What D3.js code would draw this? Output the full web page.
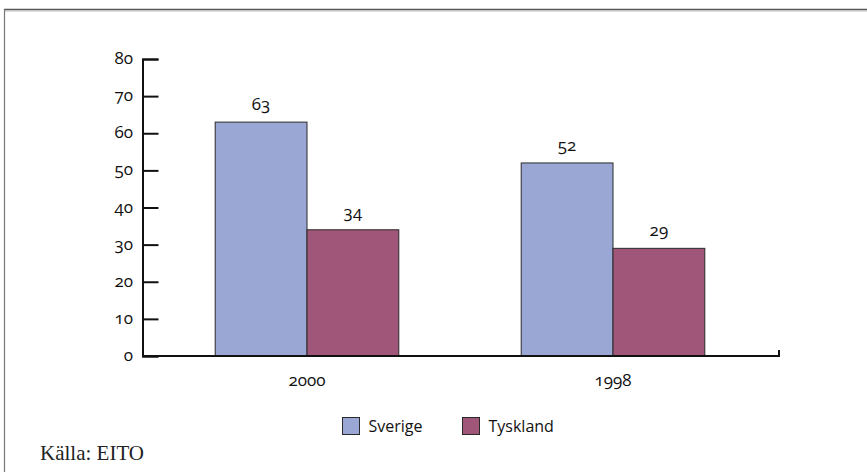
<!DOCTYPE html>
<html>
<head>
<meta charset="utf-8">
<script src="https://cdn.jsdelivr.net/npm/d3@7"></script>
<style>
  html, body { margin: 0; padding: 0; background: #fff; }
  svg { display: block; }
  .sans { font-family: "Open Sans", "Noto Sans", sans-serif; font-variant-numeric: oldstyle-nums; font-feature-settings: "onum" 1; }
</style>
</head>
<body>
<svg id="chart" width="867" height="472"></svg>
<script>
// Data
const categories = ["2000", "1998"];
const seriesNames = ["Sverige", "Tyskland"];
const sverige = [63, 52];
const tyskland = [34, 29];
const yTicks = [0, 10, 20, 30, 40, 50, 60, 70, 80];
const colors = ["#9aa6d3", "#a05679"];
const source = "Källa: EITO";

const svg = d3.select("#chart");

// Frame around the figure
svg.append("line").attr("x1", 4).attr("x2", 867).attr("y1", 9.5).attr("y2", 9.5)
  .attr("stroke", "#555").attr("stroke-width", 1.5);
svg.append("line").attr("x1", 4).attr("x2", 867).attr("y1", 11).attr("y2", 11)
  .attr("stroke", "#bbb").attr("stroke-width", 1);
svg.append("line").attr("x1", 4.5).attr("x2", 4.5).attr("y1", 9).attr("y2", 472)
  .attr("stroke", "#777").attr("stroke-width", 1.2);

const axisLeft = 142.5, axisRight = 779;
const y = d3.scaleLinear().domain([0, 80]).range([356, 59]);
const x0 = d3.scaleBand().domain(categories).range([154, 766])
  .paddingInner(0.4).paddingOuter(0.2);
const x1 = d3.scaleBand().domain(seriesNames).range([0, x0.bandwidth()]);

const rows = categories.map((c, i) => ({ cat: c, values: [sverige[i], tyskland[i]] }));

// Bars
const groups = svg.append("g").selectAll("g").data(rows).join("g")
  .attr("transform", d => `translate(${x0(d.cat)},0)`);
groups.selectAll("rect").data(d => d.values.map((v, j) => ({ v, s: seriesNames[j], j })))
  .join("rect")
  .attr("x", d => x1(d.s))
  .attr("y", d => y(d.v))
  .attr("width", x1.bandwidth())
  .attr("height", d => y(0) - y(d.v))
  .attr("fill", d => colors[d.j])
  .attr("stroke", "#2a2a2a").attr("stroke-width", 1);

// Value labels
groups.selectAll("text.val").data(d => d.values.map((v, j) => ({ v, s: seriesNames[j] })))
  .join("text").attr("class", "val sans")
  .attr("x", d => x1(d.s) + x1.bandwidth() / 2)
  .attr("y", d => y(d.v) - 12)
  .attr("text-anchor", "middle")
  .attr("font-size", 17).attr("fill", "#111")
  .text(d => d.v);

// Y axis
const yAxis = d3.axisRight(y).tickValues(yTicks).tickSize(16).tickFormat("");
const gy = svg.append("g").attr("transform", `translate(${axisLeft},0)`).call(yAxis);
gy.selectAll("path.domain").attr("stroke", "#111").attr("stroke-width", 2);
gy.selectAll(".tick line").attr("stroke", "#111").attr("stroke-width", 2);
svg.append("g").selectAll("text").data(yTicks).join("text").attr("class", "sans")
  .attr("x", 133).attr("y", d => y(d)).attr("dy", "0.3em")
  .attr("text-anchor", "end").attr("font-size", 17).attr("fill", "#111")
  .text(d => d);

// Baseline with closing tick at the right end
svg.append("path")
  .attr("d", `M${axisLeft},${y(0)}H${axisRight}V${y(0) - 6}`)
  .attr("fill", "none").attr("stroke", "#111").attr("stroke-width", 2);

// Category labels
svg.append("g").selectAll("text").data(categories).join("text").attr("class", "sans")
  .attr("x", d => x0(d) + x0.bandwidth() / 2).attr("y", 386)
  .attr("text-anchor", "middle").attr("font-size", 17).attr("fill", "#111")
  .text(d => d);

// Legend
const legendX = [342.5, 462.5];
const leg = svg.append("g").selectAll("g").data(seriesNames).join("g")
  .attr("transform", (d, i) => `translate(${legendX[i]},417.5)`);
leg.append("rect").attr("width", 17).attr("height", 17)
  .attr("fill", (d, i) => colors[i]).attr("stroke", "#2a2a2a").attr("stroke-width", 1);
leg.append("text").attr("class", "sans").attr("x", 26).attr("y", 8.5).attr("dy", "0.36em")
  .attr("font-size", 16).attr("fill", "#111").text(d => d);

// Source note
svg.append("text").attr("x", 40).attr("y", 460)
  .attr("font-family", "'Liberation Serif', 'DejaVu Serif', serif")
  .attr("font-size", 21).attr("fill", "#222").text(source);
</script>
</body>
</html>
